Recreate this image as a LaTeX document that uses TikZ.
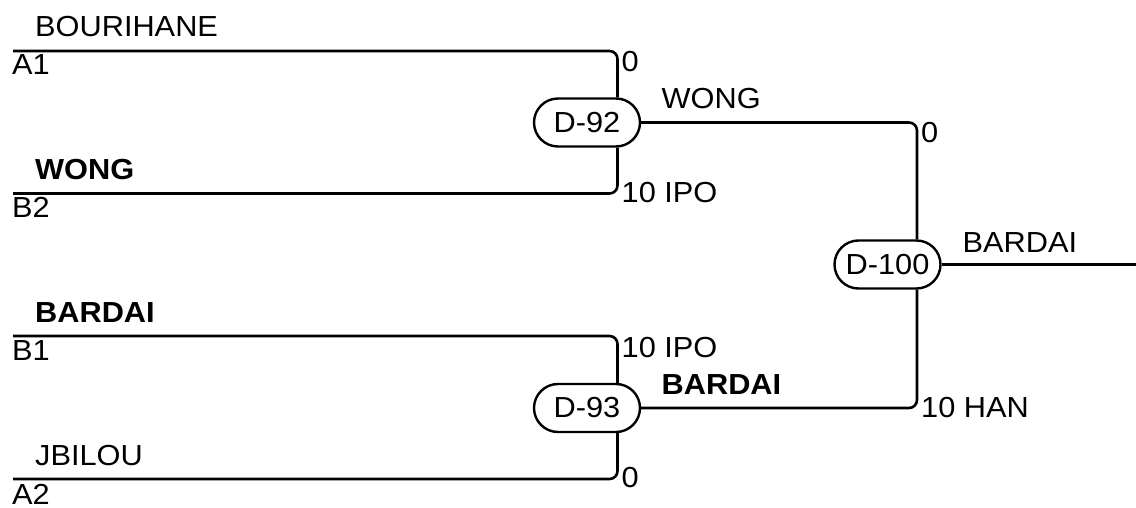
\documentclass[tikz,border=0pt]{standalone}
\usepackage{fontspec}
\setmainfont{Liberation Sans}[FakeStretch=1.06]
\usetikzlibrary{shapes.misc}
\begin{document}
\begin{tikzpicture}[x=1pt,y=-1pt,
  wire/.style={line width=2.6pt, rounded corners=8pt},
  match/.style={rounded rectangle, draw, line width=2.4pt, minimum width=106pt, minimum height=48pt, inner sep=0pt, font=\fontsize{29}{34}\selectfont},
  lbl/.style={anchor=base west, inner sep=0pt, font=\fontsize{29}{34}\selectfont},
  blbl/.style={lbl, font=\fontsize{29}{34}\selectfont\bfseries}]
\useasboundingbox (0,0) rectangle (1136,508);
% matches
\node[match] (d92) at (587,122.5) {D-92};
\node[match] (d93) at (587,408) {D-93};
\node[match] (d100) at (887.5,264.5) {D-100};
% free ends
\coordinate (a1) at (13,51);
\coordinate (b2) at (13,193.5);
\coordinate (b1) at (13,336);
\coordinate (a2) at (13,479);
\coordinate (out) at (1136,264.5);
% connectors
\draw[wire] (a1) -| ([xshift=30.5pt]d92.north);
\draw[wire] (b2) -| ([xshift=30.5pt]d92.south);
\draw[wire] (b1) -| ([xshift=30.5pt]d93.north);
\draw[wire] (a2) -| ([xshift=30.5pt]d93.south);
\draw[wire] (d92.east) -| ([xshift=29.5pt]d100.north);
\draw[wire] (d93.east) -| ([xshift=29.5pt]d100.south);
\draw[wire] (d100.east) -- (out);
% player names
\node[lbl] (nBou) at (35,37) {BOURIHANE};
\node[blbl] (nWong) at (35,179.5) {WONG};
\node[blbl] (nBar) at (35,322) {BARDAI};
\node[lbl] (nJbi) at (35,465) {JBILOU};
% seeds
\node[lbl] (sA1) at (12,75) {A1};
\node[lbl] (sB2) at (12,218) {B2};
\node[lbl] (sB1) at (12,360) {B1};
\node[lbl] (sA2) at (12,504) {A2};
% scores
\node[lbl] (c1) at (621.5,72) {0};
\node[lbl] (c2) at (621.5,203) {10 IPO};
\node[lbl] (c3) at (621.5,357) {10 IPO};
\node[lbl] (c4) at (621.5,487) {0};
\node[lbl] (c5) at (921,143) {0};
\node[lbl] (c6) at (921,417) {10 HAN};
% winners
\node[lbl] (w1) at (661.5,108.3) {WONG};
\node[blbl] (w2) at (661.5,394) {BARDAI};
\node[lbl] (w3) at (962.5,252.3) {BARDAI};
\end{tikzpicture}
\end{document}
